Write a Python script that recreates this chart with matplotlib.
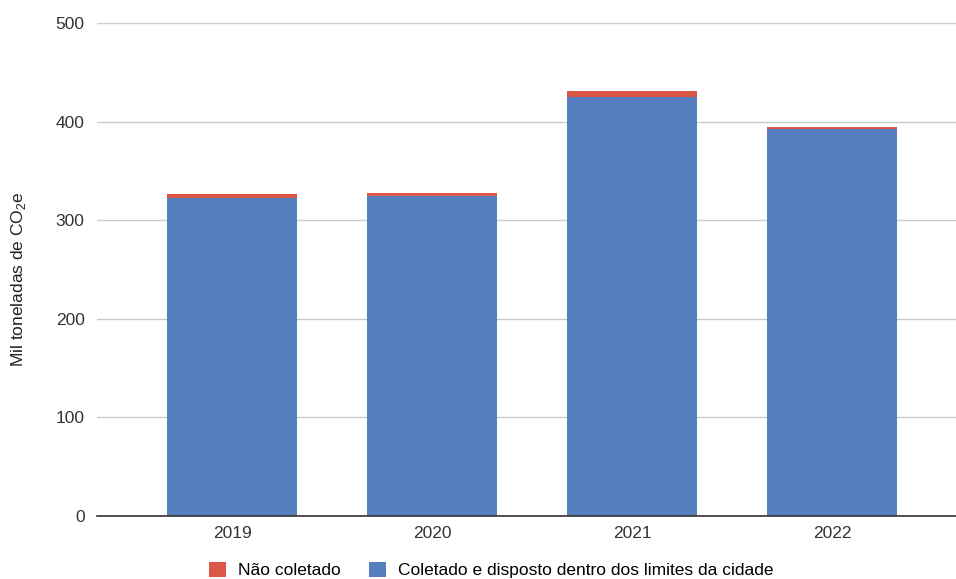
import matplotlib.pyplot as plt
import numpy as np

plt.rcParams['font.family'] = ['Liberation Sans', 'DejaVu Sans']

# データ
anos = ['2019', '2020', '2021', '2022']
coletado = [323, 325, 425, 392]
nao_coletado = [4, 3, 6, 2.5]
yticks = [0, 100, 200, 300, 400, 500]

cor_azul = '#557ebf'
cor_vermelho = '#dc5846'
fs = 12.5

fig = plt.figure(figsize=(9.56, 5.79), dpi=100)
ax = fig.add_axes([0.1015, 0.1088, 0.8985, 0.8515])

x = np.arange(len(anos))
ax.bar(x, coletado, width=0.65, color=cor_azul, zorder=3,
       label='Coletado e disposto dentro dos limites da cidade')
ax.bar(x, nao_coletado, width=0.65, bottom=coletado, color=cor_vermelho, zorder=3,
       label='Não coletado')

ax.set_xlim(-0.675, 3.62)
ax.set_ylim(0, 500)
ax.set_yticks(yticks)
ax.set_xticks(x)
ax.set_xticklabels(anos)
ax.tick_params(axis='both', length=0, labelsize=fs, colors='#333333')
ax.tick_params(axis='y', pad=9)
ax.tick_params(axis='x', pad=7)
ax.grid(axis='y', color='#cccccc', linewidth=1, zorder=0)

for s in ['top', 'right', 'left']:
    ax.spines[s].set_visible(False)
ax.spines['bottom'].set_color('#333333')
ax.spines['bottom'].set_linewidth(1.2)
ax.spines['bottom'].set_zorder(4)

ax.set_ylabel('Mil toneladas de CO$_\\mathregular{2}$e', fontsize=fs, color='#222222')
ax.yaxis.set_label_coords(-0.08, 0.48)

handles, labels = ax.get_legend_handles_labels()
fig.legend(handles[::-1], labels[::-1], loc='center', bbox_to_anchor=(0.514, 9 / 579),
           ncol=2, frameon=False, fontsize=fs, handlelength=1.0, handleheight=1.0,
           handletextpad=0.7, columnspacing=1.6, borderpad=0)

fig.savefig('out.png', dpi=100)
